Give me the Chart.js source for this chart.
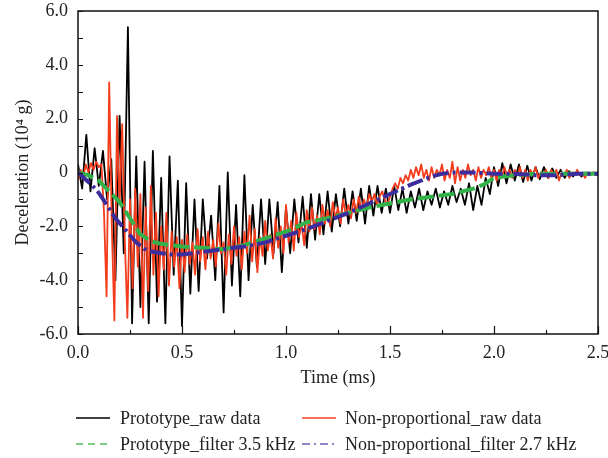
<!DOCTYPE html>
<html>
<head>
<meta charset="utf-8">
<script src="https://cdn.jsdelivr.net/npm/chart.js@4.4.1/dist/chart.umd.min.js"></script>
<style>
  body { margin: 0; background: #fff; }
  #wrap { position: relative; width: 608px; height: 458px; font-family: "Liberation Serif", "DejaVu Serif", serif; }
  .lg { position: absolute; font-size: 18px; line-height: 20px; color: #222; white-space: nowrap; }
  .lg svg { position: absolute; top: 7px; }
  .lg span { position: absolute; top: 0; }
</style>
</head>
<body>
<div id="wrap">
  <canvas id="chart" width="608" height="458"></canvas>
  <div class="lg" style="left:0;top:408px;width:608px;height:22px">
    <svg style="left:76px" width="34" height="6"><line x1="0" y1="3" x2="34" y2="3" stroke="#000" stroke-width="1.5"/></svg>
    <span style="left:120px">Prototype_raw data</span>
    <svg style="left:302px" width="34" height="6"><line x1="0" y1="3" x2="34" y2="3" stroke="#f04422" stroke-width="1.5"/></svg>
    <span style="left:345px">Non-proportional_raw data</span>
  </div>
  <div class="lg" style="left:0;top:434px;width:608px;height:22px">
    <svg style="left:76px" width="34" height="6"><line x1="0" y1="3" x2="34" y2="3" stroke="#55bf5f" stroke-width="1.5" stroke-dasharray="7,5"/></svg>
    <span style="left:120px">Prototype_filter 3.5 kHz</span>
    <svg style="left:302px" width="34" height="6"><line x1="0" y1="3" x2="34" y2="3" stroke="#6a5fb8" stroke-width="1.5" stroke-dasharray="8,4,2,4"/></svg>
    <span style="left:345px">Non-proportional_filter 2.7 kHz</span>
  </div>
</div>
<script>
// raw series are sampled on an even time grid (ms)
const blackStep = 0.02;
const prototypeRaw = [
  0.3, -0.6, 1.4, -0.7, 0.9, -0.5, 0.8, -1.0, 0.5, -4.0,
  2.1, -3.0, 5.4, -5.6, 0.6, -5.0, 0.4, -5.6, 0.8, -4.8,
  -0.2, -5.6, 0.6, -3.8, -0.3, -5.7, -0.4, -4.5, -1.0, -4.4,
  -1.0, -3.2, -1.6, -4.0, -0.5, -5.2, 0.0, -4.2, -1.2, -4.6,
  -0.1, -4.0, -1.2, -3.5, -1.0, -3.4, -1.0, -3.0, -1.1, -3.7,
  -1.3, -3.0, -1.0, -2.6, -0.9, -2.8, -0.8, -2.5, -0.8, -2.3,
  -0.7, -2.2, -0.8, -2.0, -0.6, -1.9, -0.7, -1.8, -0.6, -1.9,
  -0.5, -1.6, -0.5, -1.5, -0.6, -1.5, -0.5, -1.4, -0.6, -1.5,
  -0.7, -1.3, -0.6, -1.4, -0.7, -1.2, -0.6, -1.3, -0.7, -1.2,
  -0.5, -1.1, -0.6, -1.2, -0.4, -1.4, -0.5, -1.2, -0.2, -0.8,
  0.2, -0.5, 0.35, -0.4, 0.3, -0.3, 0.3, -0.35, 0.25, -0.3,
  0.2, -0.25, 0.2, -0.2, 0.15, -0.2, 0.1, -0.2, 0.05, -0.15,
  0.05, -0.15, 0.0, -0.1, 0.0, -0.1
];

const redStep = 0.0125;
const nonPropRaw = [
  -0.3, 0.1, -0.2, 0.3, 0.0, 0.35, 0.1, 0.4, 0.2, 0.3,
  -1.5, -4.6, 3.35, -2.0, -5.5, 2.1, -1.2, 1.8, -2.5, -5.4,
  -1.0, -4.3, -0.6, -3.5, -0.8, -5.4, -1.3, -4.4, -0.5, -3.8,
  -1.5, -4.6, -2.0, -3.6, -1.5, -4.2, -2.2, -3.5, -2.4, -4.3,
  -2.5, -3.7, -2.3, -3.4, -2.6, -3.8, -2.1, -3.3, -2.4, -3.6,
  -2.2, -3.2, -2.5, -3.5, -1.9, -3.0, -2.6, -3.8, -2.3, -3.4,
  -2.0, -3.1, -2.4, -3.6, -2.2, -3.0, -1.6, -3.3, -2.1, -3.7,
  -2.4, -3.1, -1.8, -2.9, -2.3, -3.2, -1.7, -2.8, -2.0, -3.0,
  -1.2, -2.6, -1.8, -2.9, -1.5, -2.4, -1.9, -2.7, -1.4, -2.2,
  -1.3, -2.1, -1.6, -2.3, -1.2, -1.9, -1.4, -2.0, -1.1, -1.7,
  -1.3, -1.9, -1.0, -1.6, -1.2, -1.7, -1.0, -1.5, -0.9, -1.4,
  -1.0, -1.3, -0.8, -1.1, -0.8, -1.2, -0.9, -0.7, -1.0, -1.2,
  -0.9, -0.6, -0.4, -0.6, -0.2, -0.4, -0.1, -0.3, 0.1, -0.2,
  0.2, -0.1, 0.3, -0.2, 0.1, -0.3, 0.2, -0.2, 0.1, -0.1,
  0.3, -0.3, 0.1, -0.2, 0.4, -0.4, 0.2, -0.3, 0.1, -0.2,
  0.3, -0.1, 0.1, -0.3, 0.2, -0.2, 0.1, -0.1, 0.2, -0.2,
  0.1, -0.3, 0.1, -0.2, 0.2, -0.1, 0.1, -0.2, 0.1, -0.1,
  0.2, -0.2, 0.1, -0.3, 0.1, -0.1, 0.2, -0.2, 0.0, -0.1,
  0.1, -0.2, 0.1, -0.1, 0.1, -0.3, 0.0, -0.1, 0.1, -0.2,
  0.0, -0.1, 0.1, -0.1, 0.0, -0.2, 0.0, -0.1, 0.0, -0.1,
  0.0
];

// filtered curves
const protoFilterT = [0, 0.05, 0.1, 0.15, 0.2, 0.25, 0.3, 0.35, 0.4, 0.5, 0.6, 0.7, 0.8, 0.9, 1.0, 1.1,
  1.2, 1.3, 1.4, 1.5, 1.6, 1.7, 1.8, 1.9, 1.95, 2.0, 2.1, 2.2, 2.3, 2.4, 2.5];
const protoFilter = [0, -0.1, -0.3, -0.7, -1.1, -1.7, -2.3, -2.55, -2.65, -2.75, -2.8, -2.85, -2.7, -2.45, -2.2, -1.85,
  -1.7, -1.5, -1.3, -1.15, -1.0, -0.9, -0.8, -0.6, -0.45, -0.2, -0.1, -0.05, -0.05, -0.05, -0.05];

const nonPropFilterT = [0, 0.05, 0.09, 0.13, 0.18, 0.23, 0.28, 0.33, 0.4, 0.45, 0.5, 0.6, 0.7, 0.8, 0.9, 1.0,
  1.1, 1.2, 1.3, 1.4, 1.5, 1.6, 1.7, 1.75, 1.8, 1.9, 2.0, 2.1, 2.2, 2.3, 2.4, 2.5];
const nonPropFilter = [0, -0.35, -0.65, -1.1, -1.7, -2.15, -2.6, -2.9, -3.0, -3.05, -3.05, -2.95, -2.85, -2.75, -2.6, -2.35,
  -2.1, -1.8, -1.5, -1.15, -0.8, -0.45, -0.15, -0.05, 0, 0, -0.05, -0.05, -0.1, -0.1, -0.05, -0.05];

// axis ticks
const xTicks = [0, 0.5, 1.0, 1.5, 2.0, 2.5];
const xMinorTicks = [0.25, 0.75, 1.25, 1.75, 2.25];
const yTicks = [-6, -4, -2, 0, 2, 4, 6];
const yMinorTicks = [-5, -3, -1, 1, 3, 5];
const yTickLabels = ['-6.0', '-4.0', '-2.0', '0', '2.0', '4.0', '6.0'];

const rawPoints = (vals, step) => vals.map((v, i) => ({ x: +(i * step).toFixed(4), y: v }));
const curvePoints = (ts, vals) => ts.map((t, i) => ({ x: t, y: vals[i] }));

// box frame + inward tick marks
const frameTicks = {
  id: 'frameTicks',
  afterDatasetsDraw(chart) {
    const { ctx, chartArea: a, scales: { x, y } } = chart;
    ctx.save();
    ctx.strokeStyle = '#111';
    ctx.lineWidth = 1.5;
    ctx.strokeRect(a.left, a.top, a.right - a.left, a.bottom - a.top);
    ctx.beginPath();
    xTicks.forEach(v => {
      const px = Math.round(x.getPixelForValue(v)) + 0.5;
      ctx.moveTo(px, a.bottom);
      ctx.lineTo(px, a.bottom - 8);
    });
    xMinorTicks.forEach(v => {
      const px = Math.round(x.getPixelForValue(v)) + 0.5;
      ctx.moveTo(px, a.bottom);
      ctx.lineTo(px, a.bottom - 4);
    });
    yTicks.concat(yMinorTicks).forEach(v => {
      const py = Math.round(y.getPixelForValue(v)) + 0.5;
      ctx.moveTo(a.left, py);
      ctx.lineTo(a.left + 5, py);
    });
    ctx.lineWidth = 1.2;
    ctx.stroke();
    ctx.restore();
  }
};

const serif = '"Liberation Serif", "DejaVu Serif", serif';

new Chart(document.getElementById('chart'), {
  type: 'line',
  data: {
    datasets: [
      { label: 'Prototype_raw data', data: rawPoints(prototypeRaw, blackStep), borderColor: '#000', borderWidth: 1.8, order: 3 },
      { label: 'Non-proportional_raw data', data: rawPoints(nonPropRaw, redStep), borderColor: '#f23c1c', borderWidth: 1.8, order: 2 },
      { label: 'Prototype_filter 3.5 kHz', data: curvePoints(protoFilterT, protoFilter), borderColor: '#34b24a', borderWidth: 4, borderDash: [16, 5], order: 1 },
      { label: 'Non-proportional_filter 2.7 kHz', data: curvePoints(nonPropFilterT, nonPropFilter), borderColor: '#3b2d9e', borderWidth: 4, borderDash: [16, 4, 3, 4], order: 0 }
    ]
  },
  options: {
    responsive: false,
    animation: false,
    parsing: false,
    elements: { point: { radius: 0 }, line: { tension: 0, borderJoinStyle: 'round' } },
    layout: { padding: { top: 11, right: 10, bottom: 64, left: 0 } },
    plugins: { legend: { display: false }, tooltip: { enabled: false } },
    scales: {
      x: {
        type: 'linear', min: 0, max: 2.5,
        grid: { display: false, drawTicks: false },
        border: { display: false },
        afterBuildTicks: s => { s.ticks = xTicks.map(v => ({ value: v })); },
        afterFit: s => { s.height = 60; s.paddingLeft = 0; s.paddingRight = 0; },
        ticks: { padding: 8, color: '#222', font: { family: serif, size: 18 }, maxRotation: 0, callback: v => v.toFixed(1) },
        title: { display: true, text: 'Time (ms)', color: '#222', font: { family: serif, size: 18 }, padding: { top: 0, bottom: 5 } }
      },
      y: {
        min: -6, max: 6,
        grid: { display: false, drawTicks: false },
        border: { display: false },
        afterBuildTicks: s => { s.ticks = yTicks.map(v => ({ value: v })); },
        afterFit: s => { s.width = 78; s.paddingTop = 0; s.paddingBottom = 0; },
        ticks: { padding: 10, color: '#222', font: { family: serif, size: 18 }, callback: v => yTickLabels[yTicks.indexOf(v)] },
        title: { display: true, text: 'Deceleration (10⁴ g)', color: '#222', font: { family: serif, size: 18 }, padding: { top: 12, bottom: 0 } }
      }
    }
  },
  plugins: [frameTicks]
});
</script>
</body>
</html>
